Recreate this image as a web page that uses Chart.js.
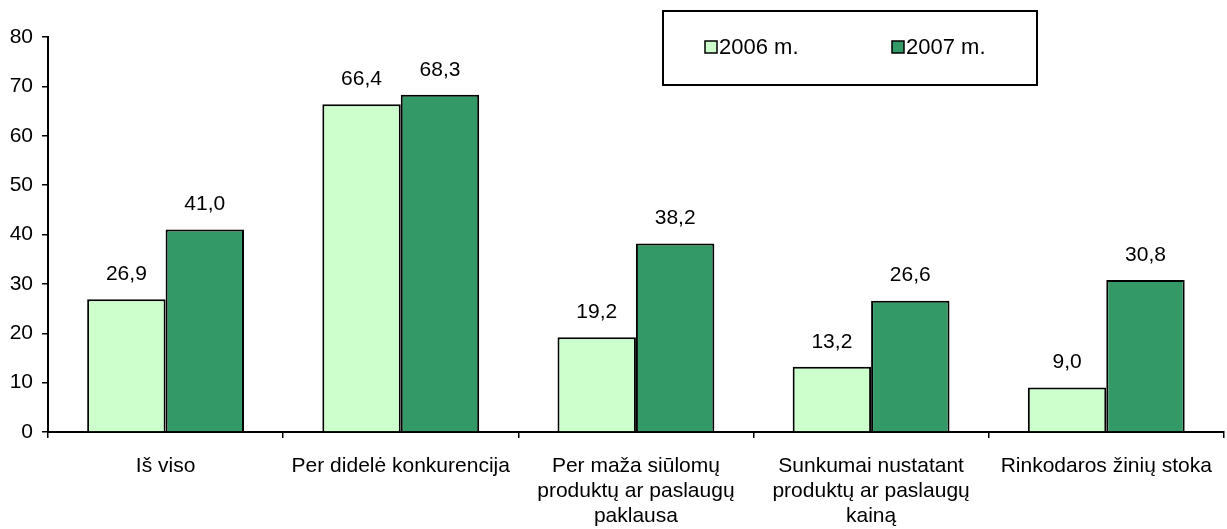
<!DOCTYPE html>
<html>
<head>
<meta charset="utf-8">
<script src="https://cdn.jsdelivr.net/npm/chart.js@4.4.0/dist/chart.umd.min.js"></script>
<style>
  html, body { margin: 0; padding: 0; background: #fff; }
  #wrap { width: 1227px; height: 529px; }
</style>
</head>
<body>
<div id="wrap"><canvas id="chart" width="1227" height="529"></canvas></div>
<script>
const categories = [
  "Iš viso",
  "Per didelė konkurencija",
  ["Per maža siūlomų", "produktų ar paslaugų", "paklausa"],
  ["Sunkumai nustatant", "produktų ar paslaugų", "kainą"],
  "Rinkodaros žinių stoka",
];
const values2006 = [26.9, 66.4, 19.2, 13.2, 9.0];
const values2007 = [41.0, 68.3, 38.2, 26.6, 30.8];
const seriesNames = ["2006 m.", "2007 m."];
const yTicks = [0, 10, 20, 30, 40, 50, 60, 70, 80];

const FONT = "'Liberation Sans', Arial, sans-serif";

// value labels above the bars, comma decimal
const valueLabels = {
  id: "valueLabels",
  afterDatasetsDraw(chart) {
    const ctx = chart.ctx;
    ctx.save();
    ctx.font = "21px " + FONT;
    ctx.fillStyle = "#000";
    ctx.textAlign = "center";
    ctx.textBaseline = "middle";
    chart.data.datasets.forEach((ds, i) => {
      chart.getDatasetMeta(i).data.forEach((bar, j) => {
        ctx.fillText(ds.data[j].toFixed(1).replace(".", ","), bar.x, bar.y - 25);
      });
    });
    ctx.restore();
  },
};

// boxed legend in the upper right like the original
const boxLegend = {
  id: "boxLegend",
  afterDraw(chart) {
    const ctx = chart.ctx;
    ctx.save();
    ctx.lineWidth = 2;
    ctx.strokeStyle = "#000";
    ctx.strokeRect(663, 11, 374, 74);
    const items = [{ x: 705 }, { x: 892 }];
    ctx.font = "22px " + FONT;
    ctx.textBaseline = "middle";
    chart.data.datasets.forEach((ds, i) => {
      const x = items[i].x;
      ctx.fillStyle = ds.backgroundColor;
      ctx.fillRect(x, 41, 12, 12);
      ctx.lineWidth = 1.5;
      ctx.strokeRect(x, 41, 12, 12);
      ctx.fillStyle = "#000";
      ctx.fillText(ds.label, x + 14, 48);
    });
    ctx.restore();
  },
};

new Chart(document.getElementById("chart"), {
  type: "bar",
  data: {
    labels: categories,
    datasets: [
      {
        label: seriesNames[0],
        data: values2006,
        backgroundColor: "#CCFFCC",
        borderColor: "#000",
        borderWidth: 2,
        borderSkipped: "bottom",
      },
      {
        label: seriesNames[1],
        data: values2007,
        backgroundColor: "#339966",
        borderColor: "#000",
        borderWidth: 2,
        borderSkipped: "bottom",
      },
    ],
  },
  options: {
    responsive: false,
    animation: false,
    layout: { padding: { top: 37, right: 1, left: 0, bottom: 0 } },
    datasets: { bar: { categoryPercentage: 0.667, barPercentage: 1.0 } },
    plugins: {
      legend: { display: false },
      tooltip: { enabled: false },
    },
    scales: {
      x: {
        grid: { display: true, drawOnChartArea: false, drawTicks: true, tickLength: 6, color: "#000", lineWidth: 1.5 },
        border: { color: "#000", width: 2 },
        ticks: { color: "#000", font: { family: FONT, size: 21, lineHeight: 1.21 }, padding: 15, maxRotation: 0, autoSkip: false },
        afterFit(scale) { scale.height = 97; },
      },
      y: {
        min: 0,
        max: 80,
        afterBuildTicks(scale) { scale.ticks = yTicks.map(v => ({ value: v })); },
        grid: { display: true, drawOnChartArea: false, drawTicks: true, tickLength: 6, color: "#000", lineWidth: 1.5 },
        border: { color: "#000", width: 2 },
        ticks: { color: "#000", font: { family: FONT, size: 21 }, padding: 9 },
        afterFit(scale) { scale.width = 48; },
      },
    },
  },
  plugins: [valueLabels, boxLegend],
});
</script>
</body>
</html>
